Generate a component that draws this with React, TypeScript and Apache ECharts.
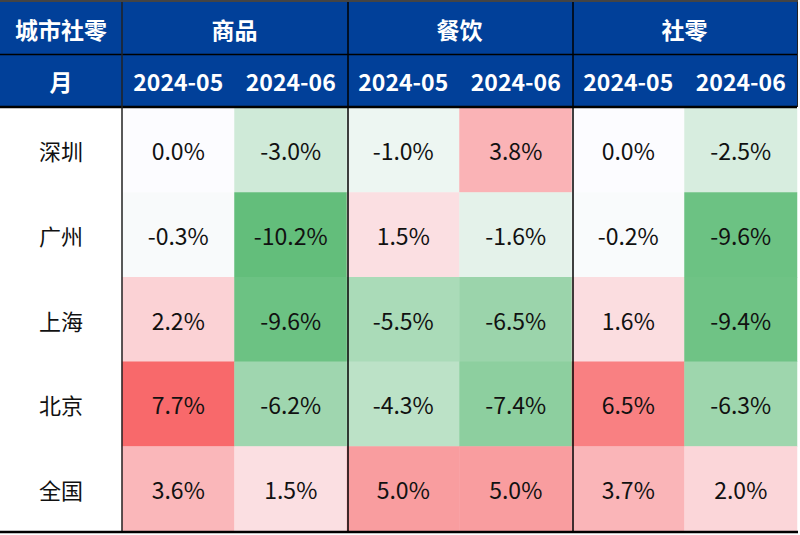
import React, { useEffect, useRef } from "react";
import * as echarts from "echarts";

const cities = ["深圳", "广州", "上海", "北京", "全国"];
const groups = ["商品", "餐饮", "社零"];
const months = ["2024-05", "2024-06"];
// values per city row: 商品05, 商品06, 餐饮05, 餐饮06, 社零05, 社零06
const shenzhen = [0.0, -3.0, -1.0, 3.8, 0.0, -2.5];
const guangzhou = [-0.3, -10.2, 1.5, -1.6, -0.2, -9.6];
const shanghai = [2.2, -9.6, -5.5, -6.5, 1.6, -9.4];
const beijing = [7.7, -6.2, -4.3, -7.4, 6.5, -6.3];
const national = [3.6, 1.5, 5.0, 5.0, 3.7, 2.0];
const rows = [shenzhen, guangzhou, shanghai, beijing, national];

const FONT = "'Noto Sans CJK SC', 'Noto Sans', sans-serif";
const BLUE = "#014099";

export default function App() {
  const ref = useRef<HTMLDivElement>(null);
  useEffect(() => {
    if (!ref.current) return;
    const chart = echarts.init(ref.current, null, { renderer: "svg" });
    const all = rows.flat();
    const min = Math.min(...all);
    const max = Math.max(...all);
    // 3-colour scale position with midpoint at 0
    const pos = (v: number) => (v >= 0 ? 0.5 + (0.5 * v) / max : 0.5 - (0.5 * v) / min);
    const cats: string[] = [];
    groups.forEach((g) => months.forEach((m) => cats.push(g + "|" + m)));
    const data: any[] = [];
    rows.forEach((r, yi) => r.forEach((v, xi) => data.push([xi, yi, v, pos(v)])));
    const L = 122, T = 108, R = 797, B = 531;
    const line = (x1: number, y1: number, x2: number, y2: number, w: number, c = "#000") => ({
      type: "line",
      z: 100,
      shape: { x1, y1, x2, y2 },
      style: { stroke: c, lineWidth: w },
    });
    const headLabel = {
      color: "#fff",
      fontWeight: "bold",
      fontSize: 23,
      fontFamily: FONT,
      margin: 27,
      verticalAlign: "middle",
      interval: 0,
    };
    chart.setOption({
      animation: false,
      grid: { left: L, top: T, width: R - L, height: B - T, containLabel: false },
      visualMap: {
        show: false,
        type: "continuous",
        dimension: 3,
        min: 0,
        max: 1,
        inRange: { color: ["#63BE7B", "#FCFCFF", "#F8696B"] },
      },
      xAxis: [
        {
          type: "category",
          position: "top",
          data: cats,
          axisLine: { show: false },
          axisTick: { show: false },
          splitLine: { show: false },
          axisLabel: { ...headLabel, formatter: (s: string) => s.split("|")[1] },
        },
        {
          type: "category",
          position: "top",
          offset: 52,
          data: groups,
          axisLine: { show: false },
          axisTick: { show: false },
          splitLine: { show: false },
          axisLabel: { ...headLabel },
        },
      ],
      yAxis: {
        type: "category",
        inverse: true,
        data: cities,
        axisLine: { show: false },
        axisTick: { show: false },
        splitLine: { show: false },
        axisLabel: {
          color: "#111",
          fontSize: 22,
          fontFamily: FONT,
          align: "center",
          margin: 61,
        },
      },
      series: [
        {
          type: "heatmap",
          xAxisIndex: 0,
          data,
          label: {
            show: true,
            formatter: (p: any) => p.value[2].toFixed(1) + "%",
            color: "#111",
            fontSize: 23,
            fontFamily: FONT,
          },
          emphasis: { disabled: true },
        },
      ],
      graphic: [
        { type: "rect", z: -10, shape: { x: 0, y: 2, width: R, height: T - 2 }, style: { fill: BLUE } },
        {
          type: "text",
          z: 50,
          x: 61,
          y: 28.5,
          style: { text: "城市社零", fill: "#fff", font: `bold 23px ${FONT}`, align: "center", verticalAlign: "middle" },
        },
        {
          type: "text",
          z: 50,
          x: 61,
          y: 80.5,
          style: { text: "月", fill: "#fff", font: `bold 23px ${FONT}`, align: "center", verticalAlign: "middle" },
        },
        line(0, 1, R + 1, 1, 2, "#444"),
        line(0, 54.5, R, 54.5, 1.5),
        line(0, 107, R, 107, 2.5),
        line(0, 532, R + 1, 532, 2.5),
        line(122, 2, 122, B, 1.5, "#222"),
        line(348, 2, 348, B, 1.5),
        line(573, 2, 573, B, 1.5),
        line(R + 0.5, 2, R + 0.5, 107, 1, "#222"),
      ],
    });
    return () => chart.dispose();
  }, []);
  return (
    <div
      ref={ref}
      style={{ position: "fixed", left: 0, top: 0, width: 800, height: 535, background: "#fff" }}
    />
  );
}
